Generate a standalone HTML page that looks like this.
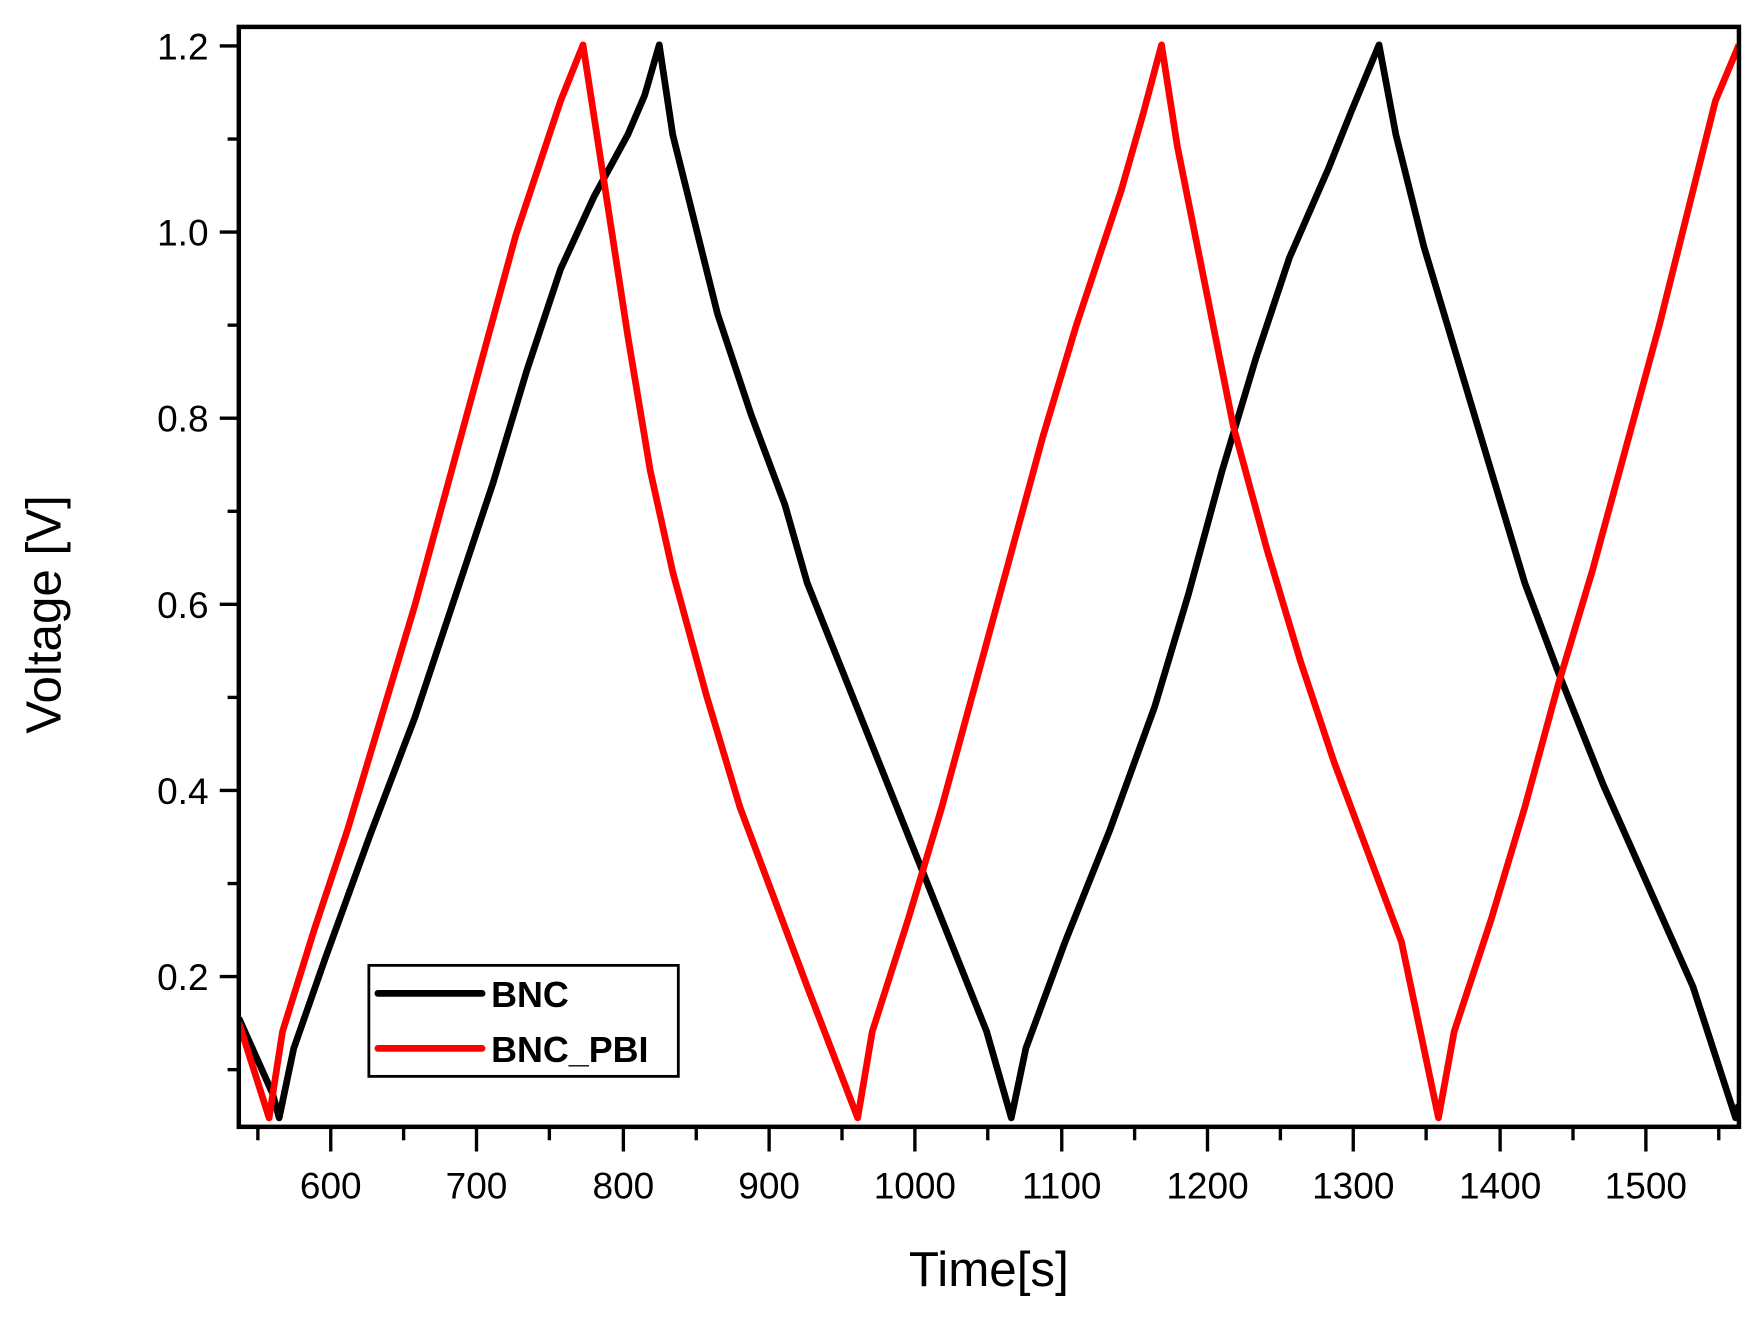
<!DOCTYPE html>
<html><head><style>html,body{margin:0;padding:0;background:#fff}svg{display:block}</style></head>
<body>
<svg width="1758" height="1318" viewBox="0 0 1568 1175.5" preserveAspectRatio="none" xmlns="http://www.w3.org/2000/svg" font-family="Liberation Sans, Arial, sans-serif">
<rect width="1568" height="1175.5" fill="#fff"/>
<defs><clipPath id="c"><rect x="213" y="24" width="1338" height="981"/></clipPath></defs>
<g clip-path="url(#c)" fill="none" stroke-width="6" stroke-linejoin="round">
<polyline stroke="#000" points="213,908 243,975 249,997 262,935 290,855 330,745 370,640 410,520 440,430 470,330 500,240 530,175 560,120 575,85 588,40 600,120 620,200 640,280 670,370 700,450 720,520 760,620 800,720 840,820 880,920 902,997 915,935 950,840 990,740 1030,630 1060,530 1090,420 1120,320 1150,230 1185,150 1205,100 1230,40 1245,120 1270,220 1300,320 1330,420 1360,520 1390,600 1430,700 1470,790 1510,880 1548,997 1551,985"/>
<polyline stroke="#f00" points="213,912 240,997 252,920 280,830 310,740 340,640 370,540 400,430 430,320 460,210 480,150 500,90 520,40 540,170 560,300 580,420 600,510 630,620 660,720 690,800 720,880 765,997 778,920 810,820 840,720 870,610 900,500 930,390 960,290 1000,170 1020,100 1036,40 1050,130 1070,230 1100,380 1130,490 1160,590 1190,680 1220,760 1250,840 1283,997 1297,920 1330,820 1360,720 1390,610 1420,510 1450,400 1480,290 1510,170 1530,90 1551,40"/>
</g>
<rect x="213" y="24" width="1338" height="981" fill="none" stroke="#000" stroke-width="4"/>
<g stroke="#000" stroke-width="3">
<line x1="196" y1="41" x2="213" y2="41"/><line x1="196" y1="207" x2="213" y2="207"/><line x1="196" y1="373" x2="213" y2="373"/><line x1="196" y1="539" x2="213" y2="539"/><line x1="196" y1="705" x2="213" y2="705"/><line x1="196" y1="871" x2="213" y2="871"/>
<line x1="203" y1="124" x2="213" y2="124"/><line x1="203" y1="290" x2="213" y2="290"/><line x1="203" y1="456" x2="213" y2="456"/><line x1="203" y1="622" x2="213" y2="622"/><line x1="203" y1="788" x2="213" y2="788"/><line x1="203" y1="954" x2="213" y2="954"/>
<line x1="295" y1="1005" x2="295" y2="1027"/><line x1="425" y1="1005" x2="425" y2="1027"/><line x1="556" y1="1005" x2="556" y2="1027"/><line x1="686" y1="1005" x2="686" y2="1027"/><line x1="816" y1="1005" x2="816" y2="1027"/><line x1="947" y1="1005" x2="947" y2="1027"/><line x1="1077" y1="1005" x2="1077" y2="1027"/><line x1="1207" y1="1005" x2="1207" y2="1027"/><line x1="1338" y1="1005" x2="1338" y2="1027"/><line x1="1468" y1="1005" x2="1468" y2="1027"/>
<line x1="230" y1="1005" x2="230" y2="1017"/><line x1="360" y1="1005" x2="360" y2="1017"/><line x1="490" y1="1005" x2="490" y2="1017"/><line x1="621" y1="1005" x2="621" y2="1017"/><line x1="751" y1="1005" x2="751" y2="1017"/><line x1="881" y1="1005" x2="881" y2="1017"/><line x1="1012" y1="1005" x2="1012" y2="1017"/><line x1="1142" y1="1005" x2="1142" y2="1017"/><line x1="1272" y1="1005" x2="1272" y2="1017"/><line x1="1403" y1="1005" x2="1403" y2="1017"/><line x1="1533" y1="1005" x2="1533" y2="1017"/>
</g>
<g font-size="33" text-anchor="end" fill="#000">
<text x="186" y="53">1.2</text><text x="186" y="219">1.0</text><text x="186" y="385">0.8</text><text x="186" y="551">0.6</text><text x="186" y="717">0.4</text><text x="186" y="883">0.2</text>
</g>
<g font-size="33" text-anchor="middle" fill="#000">
<text x="295" y="1069">600</text><text x="425" y="1069">700</text><text x="556" y="1069">800</text><text x="686" y="1069">900</text><text x="816" y="1069">1000</text><text x="947" y="1069">1100</text><text x="1077" y="1069">1200</text><text x="1207" y="1069">1300</text><text x="1338" y="1069">1400</text><text x="1468" y="1069">1500</text>
</g>
<text x="882" y="1147" font-size="44" text-anchor="middle">Time[s]</text>
<text transform="translate(54,548) rotate(-90)" font-size="44" text-anchor="middle">Voltage [V]</text>
<rect x="329" y="861" width="276" height="99" fill="#fff" stroke="#000" stroke-width="2.5"/>
<line x1="337" y1="886" x2="430" y2="886" stroke="#000" stroke-width="6" stroke-linecap="round"/>
<line x1="337" y1="935" x2="430" y2="935" stroke="#f00" stroke-width="6" stroke-linecap="round"/>
<g font-size="32" font-weight="bold"><text x="438" y="898">BNC</text><text x="438" y="947">BNC_PBI</text></g>
</svg>
</body></html>
